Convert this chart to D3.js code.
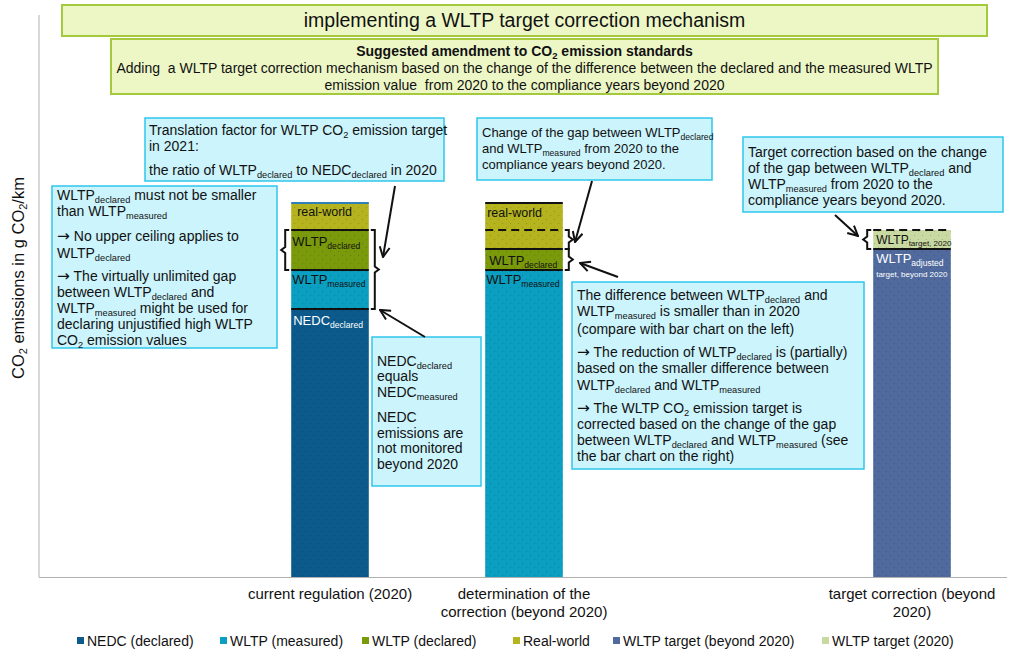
<!DOCTYPE html>
<html>
<head>
<meta charset="utf-8">
<script src="https://cdn.jsdelivr.net/npm/d3@7"></script>
<style>
  html, body { margin: 0; padding: 0; background: #fff; }
  svg { display: block; font-family: "Liberation Sans", Arial, sans-serif; }
  text { white-space: pre; }
</style>
</head>
<body>
<svg id="chart" width="1024" height="661"></svg>
<script>
// ---------- DATA ----------
const categories = ["", "current regulation (2020)", "determination of the\ncorrection (beyond 2020)", "", "target correction (beyond\n2020)"];
const seriesNames = ["NEDC (declared)", "WLTP (measured)", "WLTP (declared)", "Real-world", "WLTP target (beyond 2020)", "WLTP target (2020)"];
const seriesColors = ["#0b5a8b", "#0a9ec0", "#7b9a0b", "#b5b41f", "#506a9e", "#c9d9a2"];
const nedcDeclared     = [0, 134,   0,     0, 0];
const wltpMeasured     = [0, 19.5,  153.5, 0, 0];
const wltpDeclared     = [0, 20,    10.5,  0, 0];
const realWorld        = [0, 13.5,  23,    0, 0];
const wltpTargetBeyond = [0, 0,     0,     0, 164];
const wltpTarget2020   = [0, 0,     0,     0, 9.5];
const yMax = 281;

// ---------- SETUP ----------
const svg = d3.select("#chart");
const plot = {left: 39, right: 1009, top: 15, bottom: 577};

const x = d3.scaleBand().domain(d3.range(categories.length)).range([plot.left, plot.right]).paddingInner(0.6).paddingOuter(0.3);
const y = d3.scaleLinear().domain([0, yMax]).range([plot.bottom, plot.top]);

const table = categories.map((c, i) => ({
  i,
  s0: nedcDeclared[i], s1: wltpMeasured[i], s2: wltpDeclared[i],
  s3: realWorld[i], s4: wltpTargetBeyond[i], s5: wltpTarget2020[i]
}));
const keys = ["s0", "s1", "s2", "s3", "s4", "s5"];
const stacked = d3.stack().keys(keys)(table);

// rich text helper: "WLTP_{declared}" -> subscript, "→" drawn with DejaVu
function parseRich(str) {
  const parts = []; const re = /_\{([^}]*)\}/g; let last = 0, m;
  const pushNormal = s => {
    s.split(/(→)/).forEach(q => { if (q === "→") parts.push({t: q, arrow: true}); else if (q) parts.push({t: q}); });
  };
  while ((m = re.exec(str))) {
    if (m.index > last) pushNormal(str.slice(last, m.index));
    parts.push({t: m[1], sub: true});
    last = re.lastIndex;
  }
  if (last < str.length) pushNormal(str.slice(last));
  return parts;
}
function rich(g, xx, yy, str, o = {}) {
  const fs = o.fs || 14, subFs = o.subFs || fs * 0.66, shift = o.shift || fs * 0.2;
  const t = g.append("text").attr("x", xx).attr("y", yy)
    .attr("font-size", fs).attr("fill", o.fill || "#111")
    .attr("font-weight", o.bold ? "bold" : "normal")
    .attr("text-anchor", o.anchor || "start");
  if (o.transform) t.attr("transform", o.transform);
  let inSub = false;
  parseRich(str).forEach(p => {
    const ts = t.append("tspan").text(p.t);
    if (p.arrow) ts.attr("font-family", "DejaVu Sans").attr("font-size", fs * 1.1);
    if (p.sub) { ts.attr("font-size", subFs); if (!inSub) ts.attr("dy", shift); inSub = true; }
    else { if (inSub) ts.attr("dy", -shift); inSub = false; }
  });
  return t;
}

const defs = svg.append("defs");
// arrow marker
defs.append("marker").attr("id", "arr").attr("viewBox", "0 0 12 12")
  .attr("refX", 11).attr("refY", 6).attr("markerWidth", 12).attr("markerHeight", 12)
  .attr("markerUnits", "userSpaceOnUse").attr("orient", "auto")
  .append("path").attr("d", "M1,1 L11,6 L1,11").attr("fill", "none").attr("stroke", "#111").attr("stroke-width", 2);
// subtle dotted texture of the bars
const pat = defs.append("pattern").attr("id", "dots").attr("width", 8).attr("height", 8)
  .attr("patternUnits", "userSpaceOnUse");
pat.append("rect").attr("x", 2).attr("y", 3).attr("width", 1).attr("height", 1).attr("fill", "rgba(0,0,0,0.18)");
pat.append("rect").attr("x", 6).attr("y", 7).attr("width", 1).attr("height", 1).attr("fill", "rgba(0,0,0,0.18)");

// ---------- AXES ----------
svg.append("line").attr("x1", plot.left).attr("x2", plot.left).attr("y1", plot.top).attr("y2", plot.bottom)
  .attr("stroke", "#b0b0b0").attr("stroke-width", 1);

const xAxis = svg.append("g").attr("transform", `translate(0,${plot.bottom})`)
  .call(d3.axisBottom(x).tickSize(0).tickFormat(""));
xAxis.select(".domain").attr("stroke", "#b0b0b0").attr("d", `M${plot.left},0.5H${plot.right - 2}`);
xAxis.selectAll(".tick").each(function(d) {
  const lines = categories[d].split("\n");
  const g = d3.select(this);
  lines.forEach((ln, k) => {
    g.append("text").attr("x", 0).attr("y", 22 + k * 18).attr("text-anchor", "middle")
      .attr("font-size", 15).attr("fill", "#111").text(ln);
  });
});

rich(svg, 0, 0, "CO_{2} emissions in g CO_{2}/km", {fs: 16.5, anchor: "middle", transform: "translate(24,278) rotate(-90)"});

// ---------- BARS ----------
const barG = svg.append("g");
stacked.forEach((layer, si) => {
  const segs = layer.filter(d => d[1] - d[0] > 0);
  barG.selectAll(null).data(segs).join("rect")
    .attr("x", d => x(d.data.i)).attr("width", x.bandwidth())
    .attr("y", d => y(d[1])).attr("height", d => y(d[0]) - y(d[1]))
    .attr("fill", seriesColors[si]);
  barG.selectAll(null).data(segs).join("rect")
    .attr("x", d => x(d.data.i)).attr("width", x.bandwidth())
    .attr("y", d => y(d[1])).attr("height", d => y(d[0]) - y(d[1]))
    .attr("fill", "url(#dots)");
});

// segment boundary lines
function hline(i, v, dashed, color) {
  barG.append("line").attr("x1", x(i)).attr("x2", x(i) + x.bandwidth())
    .attr("y1", y(v)).attr("y2", y(v))
    .attr("stroke", color || "#111").attr("stroke-width", 2)
    .attr("stroke-dasharray", dashed ? "8,5" : null);
}
const segTop = (i, k) => stacked[k][i][1];
// bar 1 (current regulation)
hline(1, segTop(1, 0)); hline(1, segTop(1, 1)); hline(1, segTop(1, 2)); hline(1, segTop(1, 3), false, "#2f7fb8");
// bar 2 (determination)
hline(2, segTop(2, 1)); hline(2, segTop(2, 2)); hline(2, segTop(2, 3));
hline(2, segTop(1, 2), true);
// bar 4 (target correction)
hline(4, segTop(4, 4)); hline(4, segTop(4, 5), true);

// braces
function brace(x0, y1, y2, dir) {
  const d = 4 * dir, ym = (y1 + y2) / 2, r = 3;
  const p = `M${x0},${y1} L${x0 + d},${y1} L${x0 + d},${ym - r} L${x0 + 2 * d},${ym} L${x0 + d},${ym + r} L${x0 + d},${y2} L${x0},${y2}`;
  svg.append("path").attr("d", p).attr("fill", "none").attr("stroke", "#111").attr("stroke-width", 2);
}
const bx = i => x(i), bxr = i => x(i) + x.bandwidth();
brace(bx(1) - 2, y(segTop(1, 2)), y(segTop(1, 1)), -1);
brace(bxr(1) + 2, y(segTop(1, 2)), y(segTop(1, 0)), 1);
brace(bxr(2) + 2, y(segTop(1, 2)), y(segTop(2, 2)), 1);
brace(bxr(2) + 2, y(segTop(2, 2)), y(segTop(2, 1)), 1);
brace(bx(4) - 2, y(segTop(4, 5)), y(segTop(4, 4)), -1);

// bar labels
rich(svg, bx(1) + 6, y(segTop(1, 3)) + 13, "real-world", {fs: 12.5});
rich(svg, bx(1) + 1, y(segTop(1, 2)) + 16, "WLTP_{declared}", {fs: 13});
rich(svg, bx(1) + 1, y(segTop(1, 1)) + 14, "WLTP_{measured}", {fs: 13});
rich(svg, bx(1) + 2, y(segTop(1, 0)) + 16, "NEDC_{declared}", {fs: 13, fill: "#fff"});
rich(svg, bx(2) + 2, y(segTop(2, 3)) + 14, "real-world", {fs: 12.5});
rich(svg, bx(2) + 4, y(segTop(2, 2)) + 16, "WLTP_{declared}", {fs: 13});
rich(svg, bx(2) + 1, y(segTop(2, 1)) + 14, "WLTP_{measured}", {fs: 13});
rich(svg, bx(4) + 3, y(segTop(4, 5)) + 14, "WLTP_{target, 2020}", {fs: 12, subFs: 8});
rich(svg, bx(4) + 3, y(segTop(4, 4)) + 14, "WLTP_{adjusted}", {fs: 13, fill: "#fff", subFs: 8.5});
svg.append("text").attr("x", bx(4) + 3).attr("y", y(segTop(4, 4)) + 28).attr("font-size", 8)
  .attr("fill", "#fff").text("target, beyond 2020");

// ---------- HEADER BOXES ----------
svg.append("rect").attr("x", 62).attr("y", 5).attr("width", 925).attr("height", 31)
  .attr("fill", "#edf7c6").attr("stroke", "#a5c93c").attr("stroke-width", 2);
svg.append("text").attr("x", 524.5).attr("y", 27).attr("text-anchor", "middle").attr("font-size", 19.5)
  .attr("fill", "#111").text("implementing a WLTP target correction mechanism");
svg.append("rect").attr("x", 111).attr("y", 39).attr("width", 827).attr("height", 55)
  .attr("fill", "#edf7c6").attr("stroke", "#a5c93c").attr("stroke-width", 2);
rich(svg, 524.5, 56, "Suggested amendment to CO_{2} emission standards", {fs: 14, bold: true, anchor: "middle", subFs: 9.5, shift: 3});
svg.append("text").attr("x", 524.5).attr("y", 73).attr("text-anchor", "middle").attr("font-size", 14)
  .attr("fill", "#111").text("Adding  a WLTP target correction mechanism based on the change of the difference between the declared and the measured WLTP");
svg.append("text").attr("x", 524.5).attr("y", 90).attr("text-anchor", "middle").attr("font-size", 14)
  .attr("fill", "#111").text("emission value  from 2020 to the compliance years beyond 2020");

// ---------- ANNOTATION BOXES ----------
const notes = [
  {x: 52, y: 186, w: 225, h: 162, tx: 57, fs: 14, lines: [
    [200, "WLTP_{declared} must not be smaller"], [216, "than WLTP_{measured}"],
    [241, "→ No upper ceiling applies to"], [258, "WLTP_{declared}"],
    [281, "→ The virtually unlimited gap"], [297, "between WLTP_{declared} and"],
    [313, "WLTP_{measured} might be used for"], [329, "declaring unjustified high WLTP"],
    [345, "CO_{2} emission values"]]},
  {x: 145, y: 118, w: 299, h: 63, tx: 149, fs: 14, lines: [
    [135, "Translation factor for WLTP CO_{2} emission target"], [151, "in 2021:"],
    [175, "the ratio of WLTP_{declared} to NEDC_{declared} in 2020"]]},
  {x: 477, y: 118, w: 235, h: 62, tx: 482, fs: 13, lines: [
    [137, "Change of the gap between WLTP_{declared}"], [153, "and WLTP_{measured} from 2020 to the"],
    [169, "compliance years beyond 2020."]]},
  {x: 743, y: 137, w: 260, h: 75, tx: 748, fs: 14, lines: [
    [157, "Target correction based on the change"], [173, "of the gap between WLTP_{declared} and"],
    [189, "WLTP_{measured} from 2020 to the"], [205, "compliance years beyond 2020."]]},
  {x: 372, y: 337, w: 109, h: 149, tx: 377, fs: 14, lines: [
    [366, "NEDC_{declared}"], [381, "equals"], [397, "NEDC_{measured}"],
    [422, "NEDC"], [438, "emissions are"], [453, "not monitored"], [469, "beyond 2020"]]},
  {x: 572, y: 282, w: 292, h: 187, tx: 577, fs: 14, lines: [
    [300, "The difference between WLTP_{declared} and"], [316, "WLTP_{measured} is smaller than in 2020"],
    [334, "(compare with bar chart on the left)"],
    [357, "→ The reduction of WLTP_{declared} is (partially)"], [373, "based on the smaller difference between"],
    [390, "WLTP_{declared} and WLTP_{measured}"],
    [413, "→ The WLTP CO_{2} emission target is"], [429, "corrected based on the change of the gap"],
    [445, "between WLTP_{declared} and WLTP_{measured} (see"], [461, "the bar chart on the right)"]]}
];
notes.forEach(n => {
  svg.append("rect").attr("x", n.x).attr("y", n.y).attr("width", n.w).attr("height", n.h)
    .attr("fill", "#cbf4fc").attr("stroke", "#2fc6ea").attr("stroke-width", 1.5);
  n.lines.forEach(([ly, s]) => rich(svg, n.tx, ly, s, {fs: n.fs, subFs: n.fs * 0.66, shift: 2.5}));
});

// ---------- ARROWS ----------
const arrows = [
  [395, 186, 383, 257],
  [425, 337, 380, 310],
  [592, 181, 575, 242],
  [618, 277, 580, 263],
  [835, 215, 858, 236]
];
arrows.forEach(([x1, y1, x2, y2]) => {
  svg.append("line").attr("x1", x1).attr("y1", y1).attr("x2", x2).attr("y2", y2)
    .attr("stroke", "#111").attr("stroke-width", 2).attr("marker-end", "url(#arr)");
});

// ---------- LEGEND ----------
const legendX = [77, 220, 362, 513, 613, 822];
const leg = svg.append("g");
seriesNames.forEach((nm, i) => {
  leg.append("rect").attr("x", legendX[i]).attr("y", 637).attr("width", 7).attr("height", 7).attr("fill", seriesColors[i]);
  leg.append("text").attr("x", legendX[i] + 10).attr("y", 646).attr("font-size", 14).attr("fill", "#111").text(nm);
});
</script>
</body>
</html>
